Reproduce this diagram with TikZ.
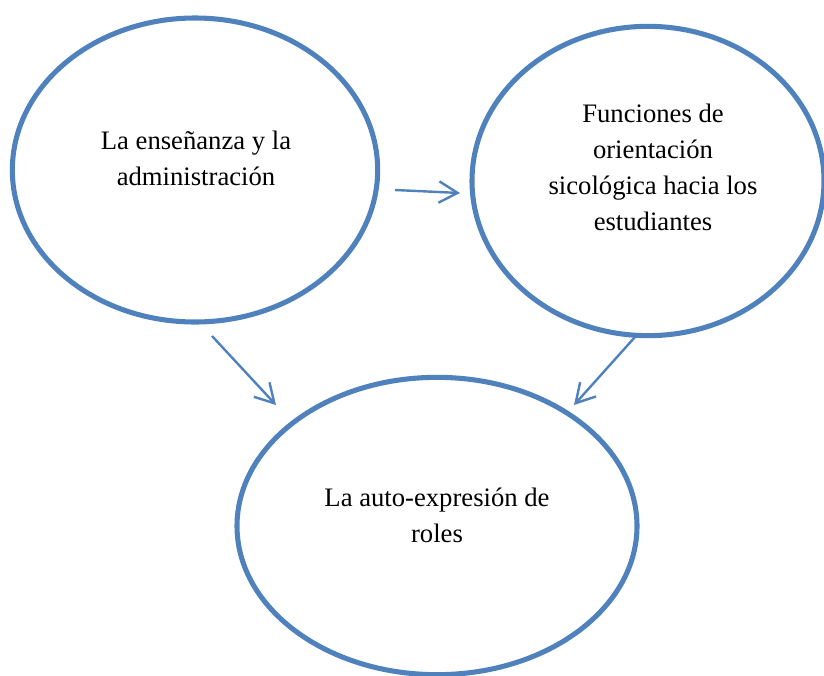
\documentclass[tikz,border=0pt]{standalone}
\usepackage{fontspec}
\setmainfont{Liberation Serif}
\usetikzlibrary{shapes.geometric,arrows.meta}
\definecolor{ovalblue}{RGB}{79,129,189}
\begin{document}
\begin{tikzpicture}[x=0.75pt,y=-0.75pt,
		oval/.style={ellipse, draw=ovalblue, line width=3.8pt, inner sep=0pt},
		txt/.style={align=center, font=\fontsize{20}{27}\selectfont},
		link/.style={draw=ovalblue, line width=1.8pt, -{Straight Barb[length=14pt,width=16pt]}}]

		\useasboundingbox (0,0) rectangle (824,675);

		\node (ens) at (195,170) [oval, minimum width=274pt, minimum height=228pt] {};
		\node (fun) at (648,181) [oval, minimum width=264pt, minimum height=232pt] {};
		\node (rol) at (437,526) [oval, minimum width=300pt, minimum height=223pt] {};

		\node (tens) at (196,158) [txt] {La enseñanza y la\\administración};
		\node (tfun) at (653,167) [txt] {Funciones de\\orientación\\sicológica hacia los\\estudiantes};
		\node (trol) at (437,515) [txt] {La auto-expresión de\\roles};

		\coordinate (a1) at (395,190);
		\coordinate (b1) at (460,193);
		\coordinate (a2) at (212,336);
		\coordinate (b2) at (276,405);
		\coordinate (a3) at (635,337);
		\coordinate (b3) at (574,405);

		\draw [link] (a1) -- (b1);
		\draw [link] (a2) -- (b2);
		\draw [link] (a3) -- (b3);
	\end{tikzpicture}
\end{document}
